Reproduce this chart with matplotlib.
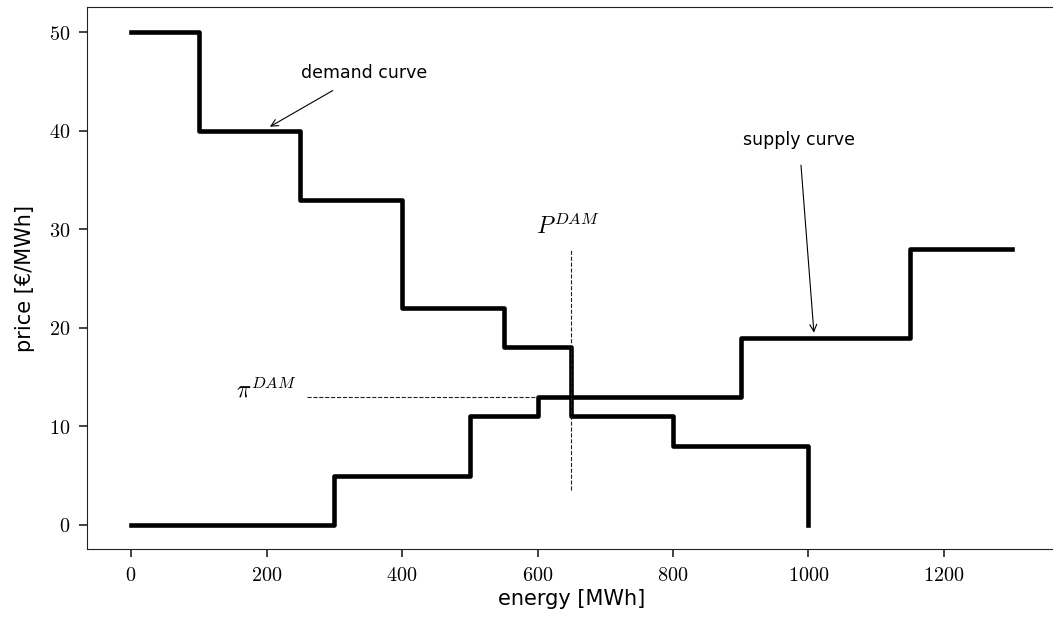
import numpy as np
import matplotlib
matplotlib.use('Agg')
import matplotlib.pyplot as plt
from matplotlib.ticker import FuncFormatter

plt.rcParams['mathtext.fontset'] = 'cm'

# demand and supply bids (energy breakpoints in MWh, price in EUR/MWh)
demand_q = [0, 100, 250, 400, 550, 650, 800, 1000, 1000]
demand_p = [50, 40, 33, 22, 18, 11, 8, 8, 0]
supply_q = [0, 300, 500, 600, 900, 1150, 1300]
supply_p = [0, 5, 11, 13, 19, 28, 28]

# market clearing point
clear_q = 650
clear_p = 13

fig = plt.figure(figsize=(10.53, 6.23), dpi=100)
ax = fig.add_axes([87 / 1053, 0.118, 0.920, 0.870])

ax.step(demand_q, demand_p, where='post', color='black', lw=3.3)
ax.step(supply_q, supply_p, where='post', color='black', lw=3.3)

# clearing lines
ax.plot([clear_q, clear_q], [3.5, 28], ls='--', color='#222222', lw=0.8)
ax.plot([260, 600], [clear_p, clear_p], ls='--', color='#222222', lw=0.8)
ax.text(clear_q - 5, 29.0, r'$P^{DAM}$', ha='center', va='bottom', fontsize=17)
ax.text(200, clear_p - 0.6, r'$\pi^{DAM}$', ha='center', va='bottom', fontsize=17)

ax.annotate('demand curve', xy=(205, 40.4), xytext=(344, 45.9), ha='center', va='center',
            fontsize=12.5, arrowprops=dict(arrowstyle='->', color='black', lw=0.8, shrinkA=9, shrinkB=0))
ax.annotate('supply curve', xy=(1008, 19.5), xytext=(986, 39.1), ha='center', va='center',
            fontsize=12.5, arrowprops=dict(arrowstyle='->', color='black', lw=0.8, shrinkA=10, shrinkB=0))

ax.set_xlim(-65, 1365)
ax.set_ylim(-2.5, 52.5)
ax.set_xticks([0, 200, 400, 600, 800, 1000, 1200])
ax.set_yticks([0, 10, 20, 30, 40, 50])
ax.xaxis.set_major_formatter(FuncFormatter(lambda v, p: f'${v:g}$'))
ax.yaxis.set_major_formatter(FuncFormatter(lambda v, p: f'${v:g}$'))
ax.tick_params(labelsize=14.5, length=6, width=1.2, pad=6, color='#222222')
for s in ax.spines.values():
    s.set_color('#222222')
ax.set_xlabel('energy [MWh]', fontsize=15, labelpad=3)
ax.set_ylabel('price [€/MWh]', fontsize=15, labelpad=10)

fig.savefig('out.png', dpi=100)
